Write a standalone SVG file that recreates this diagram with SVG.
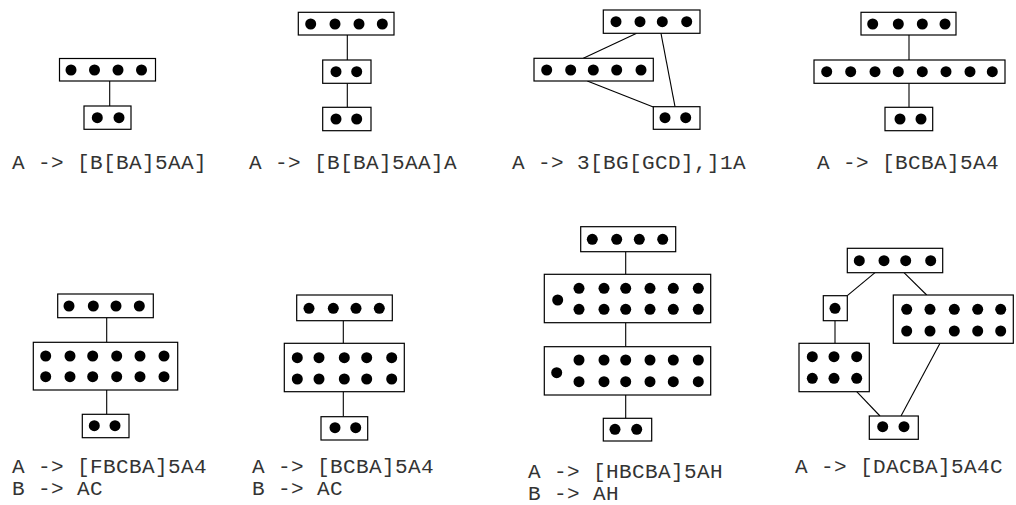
<svg xmlns="http://www.w3.org/2000/svg" width="1016" height="505" viewBox="0 0 1016 505">
<style>
.b{fill:#fff;stroke:#000;stroke-width:1.2}
.d{fill:#000}
.c line{stroke:#000;stroke-width:1.1}
.t{font-family:"Liberation Mono","DejaVu Sans Mono",monospace;font-size:21px;fill:#333;letter-spacing:0.4px}
</style>
<rect width="1016" height="505" fill="#fff"/>
<g class="c" id="connectors">
<line x1="109.7" y1="81" x2="109.7" y2="106"/>
<line x1="347.3" y1="35" x2="347.3" y2="60"/>
<line x1="347.3" y1="83.3" x2="347.3" y2="107.3"/>
<line x1="636.7" y1="33.3" x2="583.3" y2="58.3"/>
<line x1="661" y1="33.3" x2="675" y2="106.7"/>
<line x1="587.3" y1="81" x2="653.3" y2="107"/>
<line x1="909" y1="35" x2="909" y2="60"/>
<line x1="909" y1="83.3" x2="909" y2="107.3"/>
<line x1="106.7" y1="317.7" x2="106.7" y2="342.3"/>
<line x1="106.7" y1="390" x2="106.7" y2="414.3"/>
<line x1="343.3" y1="320.7" x2="343.3" y2="343.3"/>
<line x1="343.3" y1="391.7" x2="343.3" y2="416.7"/>
<line x1="625.7" y1="251.7" x2="625.7" y2="274.3"/>
<line x1="625.7" y1="322.7" x2="625.7" y2="346.7"/>
<line x1="625.7" y1="395" x2="625.7" y2="418.3"/>
<line x1="875" y1="272.7" x2="847.3" y2="295.7"/>
<line x1="904" y1="272.7" x2="926.7" y2="295"/>
<line x1="835" y1="320.7" x2="835" y2="343.3"/>
<line x1="856.7" y1="391.7" x2="880" y2="416"/>
<line x1="940" y1="343.3" x2="901" y2="416"/>
</g>
<!-- Diagram 1 -->
<g id="d1-top"><rect class="b" x="59.5" y="58.5" width="96" height="22.5"/>
<circle class="d" cx="71" cy="70" r="5.5"/><circle class="d" cx="94.5" cy="70" r="5.5"/><circle class="d" cx="118" cy="70" r="5.5"/><circle class="d" cx="141.5" cy="70" r="5.5"/></g>
<g id="d1-bot"><rect class="b" x="84" y="106" width="47" height="23.3"/>
<circle class="d" cx="97.3" cy="117.7" r="5.5"/><circle class="d" cx="119" cy="117.7" r="5.5"/></g>
<!-- Diagram 2 -->
<g id="d2-top"><rect class="b" x="298.3" y="12.3" width="95.7" height="22.7"/>
<circle class="d" cx="310.7" cy="24" r="5.5"/><circle class="d" cx="335" cy="24" r="5.5"/><circle class="d" cx="359" cy="24" r="5.5"/><circle class="d" cx="382.3" cy="24" r="5.5"/></g>
<g id="d2-mid"><rect class="b" x="322.7" y="60" width="48.3" height="23.3"/>
<circle class="d" cx="336" cy="71.7" r="5.5"/><circle class="d" cx="356.7" cy="71.7" r="5.5"/></g>
<g id="d2-bot"><rect class="b" x="322.7" y="107.3" width="48.3" height="23.4"/>
<circle class="d" cx="336" cy="119" r="5.5"/><circle class="d" cx="356.7" cy="119" r="5.5"/></g>
<!-- Diagram 3 -->
<g id="d3-top"><rect class="b" x="603.3" y="10" width="96.7" height="23.3"/>
<circle class="d" cx="616" cy="21.7" r="5.5"/><circle class="d" cx="640" cy="21.7" r="5.5"/><circle class="d" cx="662.3" cy="21.7" r="5.5"/><circle class="d" cx="686.7" cy="21.7" r="5.5"/></g>
<g id="d3-left"><rect class="b" x="534" y="58.3" width="119.3" height="22.7"/>
<circle class="d" cx="546.7" cy="70" r="5.5"/><circle class="d" cx="570.7" cy="70" r="5.5"/><circle class="d" cx="593.3" cy="70" r="5.5"/><circle class="d" cx="616.7" cy="70" r="5.5"/><circle class="d" cx="641" cy="70" r="5.5"/></g>
<g id="d3-bot"><rect class="b" x="653.3" y="106.7" width="46.7" height="22.6"/>
<circle class="d" cx="665" cy="117.7" r="5.5"/><circle class="d" cx="685.7" cy="117.7" r="5.5"/></g>
<!-- Diagram 4 -->
<g id="d4-top"><rect class="b" x="861" y="12.3" width="95" height="22.7"/>
<circle class="d" cx="872.7" cy="24" r="5.5"/><circle class="d" cx="898.3" cy="24" r="5.5"/><circle class="d" cx="922.3" cy="24" r="5.5"/><circle class="d" cx="945" cy="24" r="5.5"/></g>
<g id="d4-mid"><rect class="b" x="814" y="60" width="191" height="23.3"/>
<circle class="d" cx="826.7" cy="71.7" r="5.5"/><circle class="d" cx="850.7" cy="71.7" r="5.5"/><circle class="d" cx="875" cy="71.7" r="5.5"/><circle class="d" cx="898.3" cy="71.7" r="5.5"/><circle class="d" cx="922.3" cy="71.7" r="5.5"/><circle class="d" cx="946" cy="71.7" r="5.5"/><circle class="d" cx="970" cy="71.7" r="5.5"/><circle class="d" cx="992.3" cy="71.7" r="5.5"/></g>
<g id="d4-bot"><rect class="b" x="885" y="107.3" width="47.7" height="23.4"/>
<circle class="d" cx="900" cy="119" r="5.5"/><circle class="d" cx="921" cy="119" r="5.5"/></g>
<!-- Diagram 5 -->
<g id="d5-top"><rect class="b" x="57.7" y="294" width="95.6" height="23.7"/>
<circle class="d" cx="69" cy="306" r="5.5"/><circle class="d" cx="93.3" cy="306" r="5.5"/><circle class="d" cx="116" cy="306" r="5.5"/><circle class="d" cx="139.3" cy="306" r="5.5"/></g>
<g id="d5-mid"><rect class="b" x="33.3" y="342.3" width="144.4" height="47.7"/>
<circle class="d" cx="45.7" cy="356" r="5.5"/><circle class="d" cx="70" cy="356" r="5.5"/><circle class="d" cx="92.7" cy="356" r="5.5"/><circle class="d" cx="116.7" cy="356" r="5.5"/><circle class="d" cx="140" cy="356" r="5.5"/><circle class="d" cx="164" cy="356" r="5.5"/>
<circle class="d" cx="45.7" cy="376.7" r="5.5"/><circle class="d" cx="70" cy="376.7" r="5.5"/><circle class="d" cx="92.7" cy="376.7" r="5.5"/><circle class="d" cx="116.7" cy="376.7" r="5.5"/><circle class="d" cx="140" cy="376.7" r="5.5"/><circle class="d" cx="164" cy="376.7" r="5.5"/></g>
<g id="d5-bot"><rect class="b" x="82.3" y="414.3" width="46.7" height="23.4"/>
<circle class="d" cx="94.3" cy="425.7" r="5.5"/><circle class="d" cx="115" cy="425.7" r="5.5"/></g>
<!-- Diagram 6 -->
<g id="d6-top"><rect class="b" x="296.7" y="295" width="95.6" height="25.7"/>
<circle class="d" cx="309" cy="308.3" r="5.5"/><circle class="d" cx="333.3" cy="308.3" r="5.5"/><circle class="d" cx="356" cy="308.3" r="5.5"/><circle class="d" cx="379.3" cy="308.3" r="5.5"/></g>
<g id="d6-mid"><rect class="b" x="284.3" y="343.3" width="120" height="48.4"/>
<circle class="d" cx="297.3" cy="357.7" r="5.5"/><circle class="d" cx="319" cy="357.7" r="5.5"/><circle class="d" cx="344.3" cy="357.7" r="5.5"/><circle class="d" cx="366.7" cy="357.7" r="5.5"/><circle class="d" cx="391.7" cy="357.7" r="5.5"/>
<circle class="d" cx="297.3" cy="379" r="5.5"/><circle class="d" cx="319" cy="379" r="5.5"/><circle class="d" cx="344.3" cy="379" r="5.5"/><circle class="d" cx="366.7" cy="379" r="5.5"/><circle class="d" cx="391.7" cy="379" r="5.5"/></g>
<g id="d6-bot"><rect class="b" x="321" y="416.7" width="46.7" height="23.3"/>
<circle class="d" cx="335" cy="427.7" r="5.5"/><circle class="d" cx="355.7" cy="427.7" r="5.5"/></g>
<!-- Diagram 7 -->
<g id="d7-top"><rect class="b" x="580.7" y="226.7" width="95" height="25"/>
<circle class="d" cx="592.3" cy="239.3" r="5.5"/><circle class="d" cx="616.7" cy="239.3" r="5.5"/><circle class="d" cx="639.3" cy="239.3" r="5.5"/><circle class="d" cx="662.7" cy="239.3" r="5.5"/></g>
<g id="d7-b2"><rect class="b" x="544.3" y="274.3" width="166.4" height="48.4"/>
<circle class="d" cx="557.7" cy="300" r="5.5"/>
<circle class="d" cx="579" cy="288.3" r="5.5"/><circle class="d" cx="604" cy="288.3" r="5.5"/><circle class="d" cx="625.7" cy="288.3" r="5.5"/><circle class="d" cx="650" cy="288.3" r="5.5"/><circle class="d" cx="673.3" cy="288.3" r="5.5"/><circle class="d" cx="698.3" cy="288.3" r="5.5"/>
<circle class="d" cx="579" cy="309.3" r="5.5"/><circle class="d" cx="604" cy="309.3" r="5.5"/><circle class="d" cx="625.7" cy="309.3" r="5.5"/><circle class="d" cx="650" cy="309.3" r="5.5"/><circle class="d" cx="673.3" cy="309.3" r="5.5"/><circle class="d" cx="698.3" cy="309.3" r="5.5"/></g>
<g id="d7-b3"><rect class="b" x="544.3" y="346.7" width="166.4" height="48.3"/>
<circle class="d" cx="556.7" cy="372.7" r="5.5"/>
<circle class="d" cx="579" cy="360" r="5.5"/><circle class="d" cx="604" cy="360" r="5.5"/><circle class="d" cx="625.7" cy="360" r="5.5"/><circle class="d" cx="650" cy="360" r="5.5"/><circle class="d" cx="673.3" cy="360" r="5.5"/><circle class="d" cx="698.3" cy="360" r="5.5"/>
<circle class="d" cx="579" cy="381.7" r="5.5"/><circle class="d" cx="604" cy="381.7" r="5.5"/><circle class="d" cx="625.7" cy="381.7" r="5.5"/><circle class="d" cx="650" cy="381.7" r="5.5"/><circle class="d" cx="673.3" cy="381.7" r="5.5"/><circle class="d" cx="698.3" cy="381.7" r="5.5"/></g>
<g id="d7-bot"><rect class="b" x="603.3" y="418.3" width="48.4" height="22.7"/>
<circle class="d" cx="615" cy="429.3" r="5.5"/><circle class="d" cx="636.7" cy="429.3" r="5.5"/></g>
<!-- Diagram 8 -->
<g id="d8-top"><rect class="b" x="847.3" y="248.3" width="95.4" height="24.4"/>
<circle class="d" cx="859.3" cy="260.7" r="5.5"/><circle class="d" cx="884" cy="260.7" r="5.5"/><circle class="d" cx="905.7" cy="260.7" r="5.5"/><circle class="d" cx="930.7" cy="260.7" r="5.5"/></g>
<g id="d8-small"><rect class="b" x="823.3" y="295.7" width="24" height="25"/>
<circle class="d" cx="835" cy="308.3" r="5.5"/></g>
<g id="d8-right"><rect class="b" x="893.3" y="295" width="120" height="48.3"/>
<circle class="d" cx="906.7" cy="309.3" r="5.5"/><circle class="d" cx="930" cy="309.3" r="5.5"/><circle class="d" cx="954.3" cy="309.3" r="5.5"/><circle class="d" cx="977.7" cy="309.3" r="5.5"/><circle class="d" cx="1000.7" cy="309.3" r="5.5"/>
<circle class="d" cx="906.7" cy="331" r="5.5"/><circle class="d" cx="930" cy="331" r="5.5"/><circle class="d" cx="954.3" cy="331" r="5.5"/><circle class="d" cx="977.7" cy="331" r="5.5"/><circle class="d" cx="1000.7" cy="331" r="5.5"/></g>
<g id="d8-left"><rect class="b" x="799" y="343.3" width="70.3" height="48.4"/>
<circle class="d" cx="812.3" cy="356.7" r="5.5"/><circle class="d" cx="834" cy="356.7" r="5.5"/><circle class="d" cx="856.7" cy="356.7" r="5.5"/>
<circle class="d" cx="812.3" cy="378.3" r="5.5"/><circle class="d" cx="834" cy="378.3" r="5.5"/><circle class="d" cx="856.7" cy="378.3" r="5.5"/></g>
<g id="d8-bot"><rect class="b" x="869.3" y="416" width="49" height="23.3"/>
<circle class="d" cx="882.7" cy="426.7" r="5.5"/><circle class="d" cx="904" cy="426.7" r="5.5"/></g>
<!-- Labels -->
<g id="labels" class="t">
<text x="12" y="169" xml:space="preserve">A -&gt; [B[BA]5AA]</text>
<text x="249" y="169" xml:space="preserve">A -&gt; [B[BA]5AA]A</text>
<text x="512" y="169" xml:space="preserve">A -&gt; 3[BG[GCD],]1A</text>
<text x="817" y="169" xml:space="preserve">A -&gt; [BCBA]5A4</text>
<text x="12" y="473" xml:space="preserve">A -&gt; [FBCBA]5A4</text>
<text x="12" y="495" xml:space="preserve">B -&gt; AC</text>
<text x="252" y="473" xml:space="preserve">A -&gt; [BCBA]5A4</text>
<text x="252" y="495" xml:space="preserve">B -&gt; AC</text>
<text x="528" y="478" xml:space="preserve">A -&gt; [HBCBA]5AH</text>
<text x="528" y="500" xml:space="preserve">B -&gt; AH</text>
<text x="795" y="473" xml:space="preserve">A -&gt; [DACBA]5A4C</text>
</g>
</svg>
